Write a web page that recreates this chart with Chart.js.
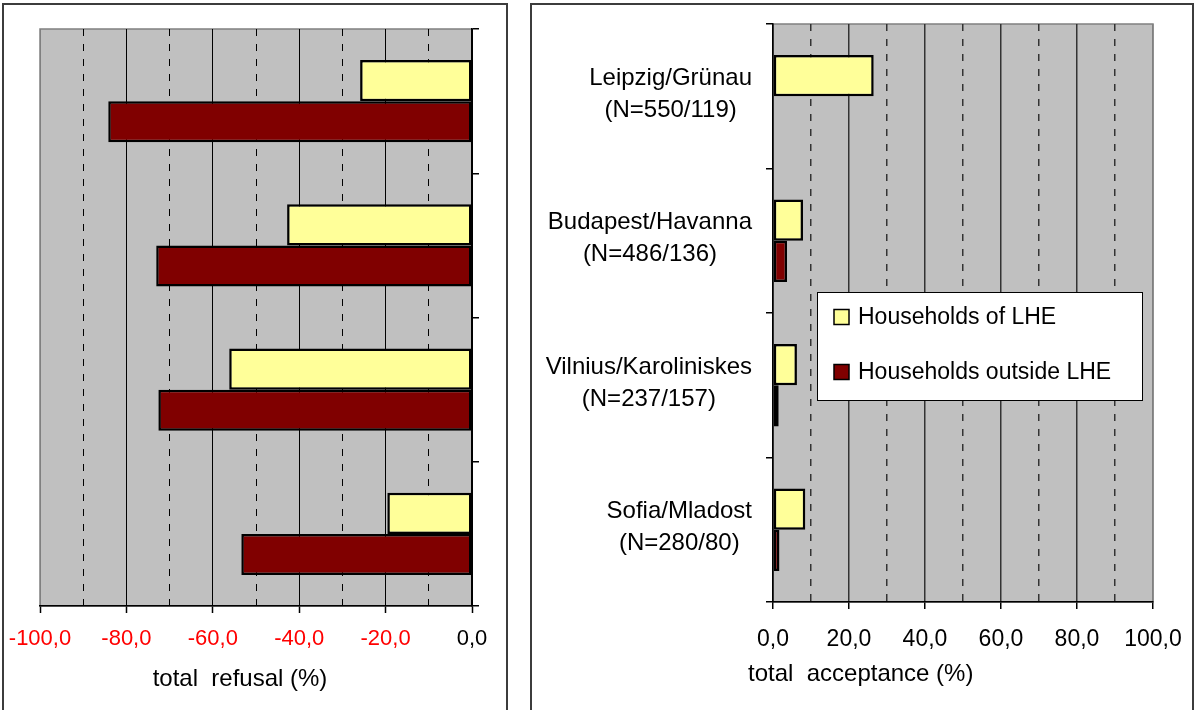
<!DOCTYPE html>
<html>
<head>
<meta charset="utf-8">
<script src="https://cdn.jsdelivr.net/npm/chart.js@4.4.1/dist/chart.umd.min.js"></script>
<style>
  html, body { margin: 0; padding: 0; background: #fff; width: 1195px; height: 710px; overflow: hidden; position: relative; }
  canvas { position: absolute; top: 0; }
  #refusal { left: 0; }
  #acceptance { left: 518px; }
  .frame { position: absolute; top: 3px; height: 760px; border: 2px solid #3c3c3c; box-sizing: border-box; pointer-events: none; }
  #frameL { left: 2px; width: 506px; }
  #frameR { left: 530px; width: 664px; }
</style>
</head>
<body>
<canvas id="refusal" width="518" height="710"></canvas>
<canvas id="acceptance" width="677" height="710"></canvas>
<div class="frame" id="frameL"></div>
<div class="frame" id="frameR"></div>
<script>
// ---- data ----
const categories = [
  ['Leipzig/Grünau', '(N=550/119)'],
  ['Budapest/Havanna', '(N=486/136)'],
  ['Vilnius/Karoliniskes', '(N=237/157)'],
  ['Sofia/Mladost', '(N=280/80)']
];
const seriesNames = ['Households of LHE', 'Households outside LHE'];

// total refusal (%)
const refusalLHE = [-25.9, -42.8, -56.2, -19.6];
const refusalOutside = [-84.2, -73.1, -72.6, -53.4];

// total acceptance (%)
const acceptanceLHE = [26.5, 7.9, 6.3, 8.5];
const acceptanceOutside = [0, 3.7, 1.5, 1.7];

// axis ranges and labelled ticks
const refusalTicks = [-100, -80, -60, -40, -20, 0];
const acceptanceTicks = [0, 20, 40, 60, 80, 100];
const axisTitles = ['total  refusal (%)', 'total  acceptance (%)'];

// ---- styling ----
const FONT = "'Liberation Sans', Arial, Helvetica, sans-serif";
const COLORS = ['#FFFF99', '#800000'];

const fmt = v => Number(v).toFixed(1).replace('.', ',');

// grey plot area with a thin grey frame
const plotBackground = {
  id: 'plotBackground',
  beforeDraw(chart) {
    const { ctx, chartArea: a } = chart;
    ctx.save();
    ctx.fillStyle = '#C0C0C0';
    ctx.fillRect(a.left, a.top, a.width, a.height);
    ctx.strokeStyle = '#808080';
    ctx.lineWidth = 1.5;
    ctx.strokeRect(a.left, a.top, a.width, a.height);
    ctx.restore();
  }
};

// axis caption placed freely under the tick labels
const caption = {
  id: 'caption',
  afterDraw(chart, args, o) {
    const ctx = chart.ctx;
    ctx.save();
    ctx.font = `${o.size}px ${FONT}`;
    ctx.fillStyle = '#000';
    ctx.textAlign = o.align;
    ctx.textBaseline = 'middle';
    ctx.fillText(o.text, o.x, o.y);
    ctx.restore();
  }
};

// two-line category names, lines centred on each other, block right-aligned
const categoryLabels = {
  id: 'categoryLabels',
  afterDraw(chart, args, o) {
    const ys = chart.scales.y;
    const ctx = chart.ctx;
    ctx.save();
    ctx.font = `${o.size}px ${FONT}`;
    ctx.fillStyle = '#000';
    ctx.textAlign = 'center';
    ctx.textBaseline = 'middle';
    chart.data.labels.forEach((lines, i) => {
      const w = Math.max(...lines.map(l => ctx.measureText(l).width));
      const cx = o.right - w / 2;
      const cy = ys.getPixelForValue(i) + o.shift;
      lines.forEach((l, k) => ctx.fillText(l, cx, cy + (k - (lines.length - 1) / 2) * o.lineGap));
    });
    ctx.restore();
  }
};

// boxed legend sitting inside the plot area
const boxLegend = {
  id: 'boxLegend',
  afterDraw(chart, args, o) {
    const ctx = chart.ctx;
    const b = o.box;
    ctx.save();
    ctx.fillStyle = '#fff';
    ctx.fillRect(b.left, b.top, b.width, b.height);
    ctx.strokeStyle = '#000';
    ctx.lineWidth = 1;
    ctx.strokeRect(b.left + 0.5, b.top + 0.5, b.width - 1, b.height - 1);
    ctx.font = `${o.size}px ${FONT}`;
    ctx.textAlign = 'left';
    ctx.textBaseline = 'middle';
    chart.data.datasets.forEach((ds, i) => {
      const cy = o.rows[i];
      ctx.fillStyle = ds.backgroundColor;
      ctx.fillRect(o.markerX, cy - o.marker / 2, o.marker, o.marker);
      ctx.strokeStyle = '#000';
      ctx.lineWidth = 1.5;
      ctx.strokeRect(o.markerX, cy - o.marker / 2, o.marker, o.marker);
      ctx.fillStyle = '#000';
      ctx.fillText(ds.label, o.textX, cy + 1);
    });
    ctx.restore();
  }
};

function makeDatasets(a, b) {
  return [a, b].map((data, i) => ({
    label: seriesNames[i],
    data,
    backgroundColor: COLORS[i],
    borderColor: '#000',
    borderWidth: 2.5,
    borderSkipped: false,
    categoryPercentage: 0.57,
    barPercentage: 1.0
  }));
}

function valueAxis(min, max, labelled, cfg) {
  const isMajor = v => labelled.includes(Math.round(v));
  return {
    type: 'linear',
    position: 'bottom',
    min, max,
    ticks: {
      stepSize: 10,
      autoSkip: false,
      maxRotation: 0,
      padding: cfg.tickPadding,
      font: { family: FONT, size: cfg.tickSize },
      color: cfg.tickColor,
      callback: v => isMajor(v) ? fmt(v) : ''
    },
    grid: {
      color: ctx => {
        const v = ctx.tick ? ctx.tick.value : null;
        if (v === cfg.greyEdge) return '#808080';
        return cfg.gridColor;
      },
      lineWidth: cfg.gridWidth,
      tickLength: 7,
      tickWidth: 1.5,
      tickColor: ctx => ctx.tick && isMajor(ctx.tick.value) ? '#000' : 'rgba(0,0,0,0)'
    },
    border: {
      color: '#000',
      width: 1.5,
      dash: ctx => ctx.tick && !isMajor(ctx.tick.value) ? [7, 8] : []
    },
    afterFit: s => { s.height = cfg.height; s.paddingLeft = 0; s.paddingRight = 0; }
  };
}

function categoryAxis(position, width) {
  return {
    type: 'category',
    position,
    offset: true,
    ticks: { display: false },
    grid: { offset: true, drawOnChartArea: false, tickLength: 7, color: '#000', tickColor: '#000', lineWidth: 1.5 },
    border: { color: '#000', width: 1.5 },
    afterFit: s => { s.width = width; }
  };
}

// ---- left chart: total refusal ----
new Chart(document.getElementById('refusal'), {
  type: 'bar',
  data: { labels: categories, datasets: makeDatasets(refusalLHE, refusalOutside) },
  plugins: [plotBackground, caption],
  options: {
    indexAxis: 'y',
    responsive: false,
    animation: false,
    events: [],
    layout: { padding: { left: 40, top: 29, right: 0, bottom: 0 } },
    scales: {
      x: valueAxis(refusalTicks[0], refusalTicks[refusalTicks.length - 1], refusalTicks, {
        tickPadding: 13, tickSize: 22, height: 104, greyEdge: -100,
        gridColor: '#000', gridWidth: 1,
        tickColor: ctx => ctx.tick && ctx.tick.value < 0 ? '#FF0000' : '#000000'
      }),
      y: categoryAxis('right', 46)
    },
    plugins: {
      legend: { display: false },
      tooltip: { enabled: false },
      caption: { text: axisTitles[0], x: 240, y: 679, size: 24, align: 'center' }
    }
  }
});

// ---- right chart: total acceptance ----
new Chart(document.getElementById('acceptance'), {
  type: 'bar',
  data: { labels: categories, datasets: makeDatasets(acceptanceLHE, acceptanceOutside) },
  plugins: [plotBackground, caption, categoryLabels, boxLegend],
  options: {
    indexAxis: 'y',
    responsive: false,
    animation: false,
    events: [],
    layout: { padding: { left: 0, top: 24, right: 42, bottom: 0 } },
    scales: {
      x: valueAxis(acceptanceTicks[0], acceptanceTicks[acceptanceTicks.length - 1], acceptanceTicks, {
        tickPadding: 17, tickSize: 23, height: 108, greyEdge: 100,
        gridColor: '#333', gridWidth: 1.5,
        tickColor: '#000'
      }),
      y: categoryAxis('left', 255)
    },
    plugins: {
      legend: { display: false },
      tooltip: { enabled: false },
      caption: { text: axisTitles[1], x: 230, y: 674, size: 24, align: 'left' },
      categoryLabels: { size: 24, right: 234, shift: -2, lineGap: 32 },
      boxLegend: {
        box: { left: 299, top: 292, width: 326, height: 109 },
        size: 23, marker: 15, markerX: 316, textX: 340, rows: [317, 372]
      }
    }
  }
});
</script>
</body>
</html>
